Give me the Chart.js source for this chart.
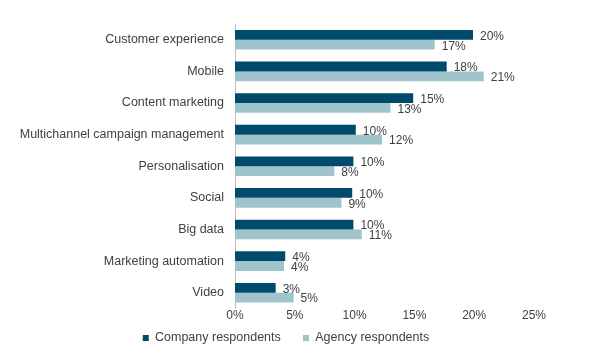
<!DOCTYPE html>
<html>
<head>
<meta charset="utf-8">
<script src="https://cdn.jsdelivr.net/npm/chart.js@4/dist/chart.umd.min.js"></script>
<style>
html,body{margin:0;padding:0;background:#fff;}
#wrap{width:600px;height:360px;position:relative;}
</style>
</head>
<body>
<div id="wrap"><canvas id="c" width="600" height="360"></canvas></div>
<script>
const categories = ["Customer experience","Mobile","Content marketing","Multichannel campaign management","Personalisation","Social","Big data","Marketing automation","Video"];
const companyValues = [19.9,17.7,14.9,10.1,9.9,9.8,9.9,4.2,3.4];
const agencyValues = [16.7,20.8,13.0,12.3,8.3,8.9,10.6,4.1,4.9];
const companyLabels = ["20%","18%","15%","10%","10%","10%","10%","4%","3%"];
const agencyLabels = ["17%","21%","13%","12%","8%","9%","11%","4%","5%"];
const seriesNames = ["Company respondents","Agency respondents"];
const xTicks = [0,5,10,15,20,25];

const FONT = "'Liberation Sans', Arial, sans-serif";
const TEXT = "#404040";

const labelPlugin = {
  id: 'barLabels',
  afterDatasetsDraw(chart) {
    const ctx = chart.ctx;
    ctx.save();
    ctx.font = "12px " + FONT;
    ctx.fillStyle = TEXT;
    ctx.textAlign = 'left';
    ctx.textBaseline = 'middle';
    const labelSets = [companyLabels, agencyLabels];
    chart.data.datasets.forEach((ds, di) => {
      const meta = chart.getDatasetMeta(di);
      meta.data.forEach((bar, i) => {
        ctx.fillText(labelSets[di][i], bar.x + 7, bar.y + 1.5);
      });
    });
    ctx.restore();
  }
};

new Chart(document.getElementById('c'), {
  type: 'bar',
  data: {
    labels: categories,
    datasets: [
      { label: seriesNames[0], data: companyValues, backgroundColor: '#004a6c', categoryPercentage: 0.62, barPercentage: 1.0 },
      { label: seriesNames[1], data: agencyValues, backgroundColor: '#a0c4cc', categoryPercentage: 0.62, barPercentage: 1.0 }
    ]
  },
  options: {
    indexAxis: 'y',
    responsive: false,
    animation: false,
    layout: { padding: { top: 24, right: 28, bottom: 5.75, left: 0 } },
    scales: {
      x: {
        min: 0, max: 25,
        afterBuildTicks(scale) { scale.ticks = xTicks.map(v => ({ value: v })); },
        ticks: { callback: v => v + '%', color: TEXT, font: { family: FONT, size: 12 }, mirror: true, padding: -14.2, maxRotation: 0 },
        grid: { display: false, drawTicks: false },
        border: { display: false },
        afterFit(scale) { scale.height = 1; }
      },
      y: {
        ticks: { color: TEXT, font: { family: FONT, size: 12.5 }, padding: 11, autoSkip: false },
        grid: { display: false, drawTicks: false },
        border: { display: true, color: '#bfbfbf', width: 1 },
        afterFit(scale) { scale.width = 235; }
      },
      yRight: {
        type: 'category',
        position: 'right',
        display: true,
        ticks: { display: false },
        grid: { display: false, drawTicks: false },
        border: { display: false },
        afterFit(scale) { scale.width = 38; }
      }
    },
    plugins: {
      legend: {
        position: 'bottom',
        labels: {
          color: TEXT,
          font: { family: FONT, size: 12.5 },
          boxWidth: 6, boxHeight: 6,
          padding: 22.25
        }
      },
      tooltip: { enabled: false }
    }
  },
  plugins: [labelPlugin]
});
</script>
</body>
</html>
